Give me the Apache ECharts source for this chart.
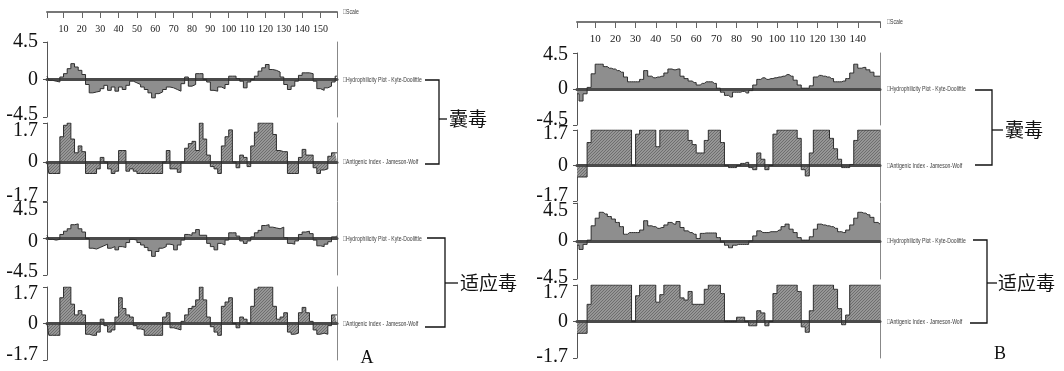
<!DOCTYPE html>
<html><head><meta charset="utf-8">
<script src="https://cdn.jsdelivr.net/npm/echarts@6/dist/echarts.min.js"></script>
<style>html,body{margin:0;padding:0;background:#fff}#c{width:1064px;height:371px}</style>
</head><body><div id="c"></div>
<script>
// ---------- data (values every 2 residues, starting at residue 1) ----------
const scaleTicksA = [10,20,30,40,50,60,70,80,90,100,110,120,130,140,150];
const scaleTicksB = [10,20,30,40,50,60,70,80,90,100,110,120,130,140];
const lengthA = 159;
const lengthB = 151;
const hydroRange = [-4.5, 0, 4.5];
const antiRange = [-1.7, 0, 1.7];
const hydroName = '\u25A1Hydrophilicity Plot - Kyte-Doolittle';
const antiName = '\u25A1Antigenic Index - Jameson-Wolf';
const scaleName = '\u25A1Scale';
const groupNames = ['囊毒', '适应毒'];
const panelNames = ['A', 'B'];

const hydroA_nang = [0.4,-0.1,-0.2,-0.3,0.3,0.7,1.3,1.9,1.5,1.1,
  0.6,-0.6,-1.6,-1.5,-1.4,-1.1,-0.7,-1.3,-0.9,-1.4,
  -0.9,-1.2,-0.7,-0.2,-0.4,-0.6,-0.9,-1.2,-1.6,-2.2,
  -1.7,-1.5,-1.2,-0.9,-1.0,-1.2,-1.4,-0.5,0.3,-0.8,
  -0.6,0.7,0.7,0,-0.3,-1.3,-1.4,-0.9,-1.1,-0.6,
  0.4,0.4,0.1,-0.2,-1.0,-0.3,0,0.4,1.0,1.4,
  1.8,1.2,1.1,0.9,0.3,-0.6,-1.2,-0.8,-0.2,0.5,
  0.8,0.8,0.7,-0.2,-1.1,-1.3,-1.0,-0.8,-0.3,0.4];
const antiA_nang = [0,-0.5,-0.5,-0.5,1.1,1.6,1.7,1.0,0.4,0.7,
  0.45,-0.5,-0.5,-0.5,-0.3,0.2,0,-0.3,-0.5,-0.4,
  0.5,0.5,-0.4,-0.3,-0.4,-0.5,-0.5,-0.5,-0.5,-0.5,
  -0.5,-0.5,0,0.5,-0.3,-0.3,-0.45,0,0.6,0.8,
  0.9,0.5,1.7,1.0,0.3,-0.2,-0.3,-0.5,0.7,1.1,
  1.4,0,-0.25,0.3,0.2,-0.2,0.7,1.3,1.7,1.7,
  1.7,1.7,1.2,0.5,0.45,0.45,-0.5,-0.5,-0.5,0.2,
  0.55,0.3,0.3,-0.25,-0.5,-0.35,-0.3,0.25,0.4,0.4];
const hydroA_shiying = [0.4,-0.1,-0.2,-0.1,0.5,0.9,1.2,1.7,1.8,1.2,
  0.8,0,-1.2,-1.3,-1.1,-0.9,-0.7,-1.2,-1.0,-1.4,
  -1.0,-1.1,-0.5,-0.1,-0.2,-0.5,-0.8,-1.1,-1.5,-2.2,
  -1.6,-1.2,-1.0,-0.7,-0.8,-1.4,-0.8,-0.2,0.5,0.4,
  0.7,1.1,0.4,0.4,-0.6,-1.0,-1.4,-0.6,-0.8,-0.2,
  0.7,0.7,0.3,-0.3,-0.6,-0.3,0.2,0.7,1.0,1.6,
  1.7,1.4,1.3,1.2,1.4,0.1,-0.6,-0.7,-0.3,0.5,
  0.8,0.9,0.6,-0.2,-0.9,-1.0,-0.7,-0.4,0.2,0.3];
const antiA_shiying = [0,-0.55,-0.55,-0.55,1.2,1.7,1.7,0.9,0.4,0.6,
  0.4,-0.5,-0.55,-0.55,-0.4,0.2,-0.1,-0.4,-0.3,0.3,
  1.2,0.7,0.4,0.3,-0.1,-0.25,-0.3,-0.55,-0.55,-0.55,
  -0.55,-0.55,0.3,0.5,-0.2,-0.25,-0.3,0.1,0.4,0.7,
  0.8,1.1,1.7,1.1,0.3,-0.15,-0.4,-0.55,0.8,1.0,
  1.2,0,-0.2,0.3,0.2,0,0.8,1.6,1.7,1.7,
  1.7,1.7,0.8,0.2,0.3,0.5,-0.4,-0.5,-0.45,0.5,
  0.75,0.5,0.1,-0.3,-0.5,-0.45,-0.5,-0.1,0.4,0.4];
const hydroB_nang = [-0.6,-1.5,-0.6,0.2,1.9,3.1,3.1,2.8,2.6,2.5,
  2.3,2.1,1.5,0.9,0.9,0.9,1.2,2.3,1.6,1.4,
  1.5,1.6,2.0,2.5,2.4,2.5,1.6,1.3,1.0,0.8,
  0.5,0.7,0.9,0.9,0.7,0.1,-0.4,-0.8,-1.0,-0.4,
  -0.4,-0.3,-0.5,-0.2,0.5,1.2,1.4,1.2,1.3,1.4,
  1.5,1.6,1.8,1.6,1.1,0.5,0.1,0.1,0.4,1.5,
  1.7,1.6,1.5,1.3,0.9,0.9,1.0,1.3,2.0,3.1,
  2.6,2.7,2.4,2.1,1.6,1.6];
const antiB_nang = [-0.55,-0.55,-0.55,1.1,1.7,1.7,1.7,1.7,1.7,1.7,
  1.7,1.7,1.7,1.7,0,1.5,1.7,1.7,1.7,1.7,
  0.9,1.7,1.7,1.7,1.7,1.7,1.7,1.7,1.2,1.0,
  0.6,0.6,1.2,1.7,1.7,1.7,1.1,0,-0.1,-0.1,
  0,0.1,0.15,-0.1,-0.2,0.6,0.3,-0.2,0,1.5,
  1.7,1.7,1.7,1.7,1.7,1.3,-0.2,-0.5,0.6,1.7,
  1.7,1.7,1.7,1.3,0.8,0.3,-0.1,-0.1,0.05,1.2,
  1.7,1.7,1.7,1.7,1.7,1.7];
const hydroB_shiying = [-0.5,-1.0,-0.4,0.1,1.8,2.7,3.4,3.2,2.9,2.6,
  2.2,1.7,0.8,1.0,1.0,1.0,1.3,2.4,1.8,1.7,
  1.5,1.6,1.9,2.2,2.0,2.3,1.6,1.2,1.0,0.8,
  0.3,0.9,0.95,0.95,0.95,0.4,-0.1,-0.5,-0.8,-0.5,
  -0.4,-0.4,-0.4,0,0.6,1.2,1.0,1.0,1.1,1.1,
  1.3,1.7,2.0,1.4,1.0,0.4,0.1,0.1,0.5,1.4,
  2.0,1.9,1.8,1.7,1.5,1.1,1.0,1.3,1.9,2.7,
  3.4,3.3,3.1,2.8,2.2,2.0];
const antiB_shiying = [-0.55,-0.55,-0.55,0.8,1.7,1.7,1.7,1.7,1.7,1.7,
  1.7,1.7,1.7,1.7,0,1.2,1.7,1.7,1.7,1.7,
  0.9,1.25,1.7,1.7,1.7,1.7,1.1,1.0,1.4,0.8,
  0.8,0.8,1.5,1.7,1.7,1.7,1.3,0,0,0,
  0.2,0.2,0,-0.2,-0.2,0.5,0.4,-0.2,0,1.3,
  1.7,1.7,1.7,1.7,1.7,1.4,-0.25,-0.5,0.5,1.7,
  1.7,1.7,1.7,1.7,1.5,0.6,-0.15,0.3,1.7,1.7,
  1.7,1.7,1.7,1.7,1.7,1.7];
const residueStep = 2;

// ---------- layout ----------
const panels = [
  {xmax: lengthA, left: 47, width: 290, scaleTop: 12, ticks: scaleTicksA, tickFont: 10, nameGap: 6,
   plots: [
     {kind: 'h', data: hydroA_nang, top: 42, height: 75, shift: [0, 0, -2]},
     {kind: 'a', data: antiA_nang, top: 123, height: 78, shift: [8, 0, -5]},
     {kind: 'h', data: hydroA_shiying, top: 202, height: 73, shift: [8, 3, -3]},
     {kind: 'a', data: antiA_shiying, top: 287, height: 73, shift: [7, 0, -5]}
   ]},
  {xmax: lengthB, left: 577, width: 303, scaleTop: 22, ticks: scaleTicksB, tickFont: 11, nameGap: 7,
   plots: [
     {kind: 'h', data: hydroB_nang, top: 53, height: 72, shift: [2, 0, -5]},
     {kind: 'a', data: antiB_nang, top: 130, height: 71, shift: [4, 0, -5]},
     {kind: 'h', data: hydroB_shiying, top: 203, height: 76, shift: [8, 0, -1]},
     {kind: 'a', data: antiB_shiying, top: 285, height: 73, shift: [8, 0, -1]}
   ]}
];

function hatchCanvas() {
  const c = document.createElement('canvas');
  c.width = 3; c.height = 3;
  const g = c.getContext('2d');
  g.fillStyle = '#969696'; g.fillRect(0, 0, 3, 3);
  g.fillStyle = '#6e6e6e';
  for (let i = 0; i < 3; i++) g.fillRect(2 - i, i, 1, 1);
  return c;
}
const hatch = {image: hatchCanvas(), repeat: 'repeat'};

const narrowFamily = '"Liberation Sans","DejaVu Sans",sans-serif';
const serif = '"Liberation Serif","DejaVu Serif",serif';

function richFor(shift) {
  const base = {fontFamily: serif, fontSize: 20, color: '#111'};
  const mk = s => s > 0 ? Object.assign({padding: [2 * s, 0, 0, 0]}, base)
                : s < 0 ? Object.assign({padding: [0, 0, -2 * s, 0]}, base) : Object.assign({}, base);
  return {t: mk(shift[0]), m: mk(shift[1]), b: mk(shift[2])};
}
function legendText(text, x, y) {
  return {type: 'text', x: x, y: y, scaleX: 0.64, silent: true,
    style: {text: text, font: '8px ' + narrowFamily, fill: '#3a3a3a', textAlign: 'left', textVerticalAlign: 'middle'}};
}

const grids = [], xAxes = [], yAxes = [], series = [], graphic = [];
panels.forEach(p => {
  // scale axis
  const gi = grids.length;
  grids.push({left: p.left, top: p.scaleTop - 1, width: p.width, height: 1, containLabel: false, outerBoundsMode: 'none'});
  xAxes.push({gridIndex: gi, type: 'value', min: 1, max: p.xmax, position: 'bottom',
    axisLine: {show: true, lineStyle: {color: '#777', width: 2}},
    axisTick: {show: true, length: 6, customValues: [1].concat(p.ticks, [p.xmax]), lineStyle: {color: '#666', width: 1}},
    axisLabel: {show: true, customValues: p.ticks, margin: 12, fontFamily: serif, fontSize: p.tickFont, color: '#222'},
    splitLine: {show: false}});
  yAxes.push({gridIndex: gi, type: 'value', min: 0, max: 1, show: false});
  graphic.push(legendText(scaleName, p.left + p.width + p.nameGap, p.scaleTop));

  p.plots.forEach(pl => {
    const g = grids.length;
    const rng = pl.kind === 'h' ? hydroRange : antiRange;
    const lab = pl.kind === 'h' ? ['-4.5', '0', '4.5'] : ['-1.7', '0', '1.7'];
    grids.push({left: p.left, top: pl.top, width: p.width, height: pl.height, containLabel: false, outerBoundsMode: 'none'});
    xAxes.push({gridIndex: g, type: 'value', min: 1, max: p.xmax, z: 3,
      axisLine: {show: true, onZero: true, lineStyle: {color: '#4a4a4a', width: 3}},
      axisTick: {show: false}, axisLabel: {show: false}, splitLine: {show: false}});
    const yl = yAxes.length;
    yAxes.push({gridIndex: g, type: 'value', min: rng[0], max: rng[2], interval: rng[2], position: 'left',
      axisLine: {show: true, lineStyle: {color: '#555', width: 1}},
      axisTick: {show: true, length: 4, lineStyle: {color: '#555'}},
      splitLine: {show: false},
      axisLabel: {show: true, margin: 9, rich: richFor(pl.shift),
        formatter: v => v > 0 ? '{t|' + lab[2] + '}' : (v < 0 ? '{b|' + lab[0] + '}' : '{m|' + lab[1] + '}')}});
    yAxes.push({gridIndex: g, type: 'value', min: rng[0], max: rng[2], interval: rng[2], position: 'right',
      axisLine: {show: true, lineStyle: {color: '#888', width: 1}},
      axisTick: {show: false}, axisLabel: {show: false}, splitLine: {show: false}});
    graphic.push(legendText(pl.kind === 'h' ? hydroName : antiName, p.left + p.width + p.nameGap, pl.top + pl.height / 2));
    series.push({type: 'line', xAxisIndex: g, yAxisIndex: yl, step: 'middle', symbol: 'none', showSymbol: false,
      silent: true, animation: false,
      data: pl.data.map((v, i) => [1 + residueStep * i, v]),
      lineStyle: {color: '#2e2e2e', width: 1},
      areaStyle: {color: pl.kind === 'h' ? '#8e8e8e' : hatch, opacity: 1}});
  });
});

// brackets + group labels + panel letters
const bracketStyle = {stroke: '#111', lineWidth: 1.3, fill: null};
const cjk = '"Noto Sans CJK SC","Noto Sans CJK JP",sans-serif';
const brackets = [
  {pts: [[425, 80], [439, 80], [439, 164], [425, 164]], tick: [[439, 119], [447, 119]], tx: 449, ty: 119, text: groupNames[0]},
  {pts: [[427, 238], [445, 238], [445, 327], [425, 327]], tick: [[445, 283], [458, 283]], tx: 460, ty: 283, text: groupNames[1]},
  {pts: [[975, 90], [992, 90], [992, 165], [975, 165]], tick: [[992, 130], [1003, 130]], tx: 1005, ty: 130, text: groupNames[0]},
  {pts: [[973, 240], [987, 240], [987, 323], [970, 323]], tick: [[987, 283], [997, 283]], tx: 998, ty: 283, text: groupNames[1]}
];
brackets.forEach(b => {
  graphic.push({type: 'polyline', shape: {points: b.pts}, style: bracketStyle, silent: true});
  graphic.push({type: 'polyline', shape: {points: b.tick}, style: bracketStyle, silent: true});
  graphic.push({type: 'text', x: b.tx, y: b.ty, silent: true,
    style: {text: b.text, font: '19px ' + cjk, fill: '#111', textAlign: 'left', textVerticalAlign: 'middle'}});
});
graphic.push({type: 'text', x: 367, y: 358, silent: true, style: {text: panelNames[0], font: '18px ' + serif, fill: '#111', textAlign: 'center', textVerticalAlign: 'middle'}});
graphic.push({type: 'text', x: 1000, y: 354, silent: true, style: {text: panelNames[1], font: '18px ' + serif, fill: '#111', textAlign: 'center', textVerticalAlign: 'middle'}});

const chart = echarts.init(document.getElementById('c'), null, {renderer: 'canvas', width: 1064, height: 371});
chart.setOption({
  backgroundColor: '#fff',
  animation: false,
  grid: grids, xAxis: xAxes, yAxis: yAxes, series: series, graphic: graphic
});
</script></body></html>
